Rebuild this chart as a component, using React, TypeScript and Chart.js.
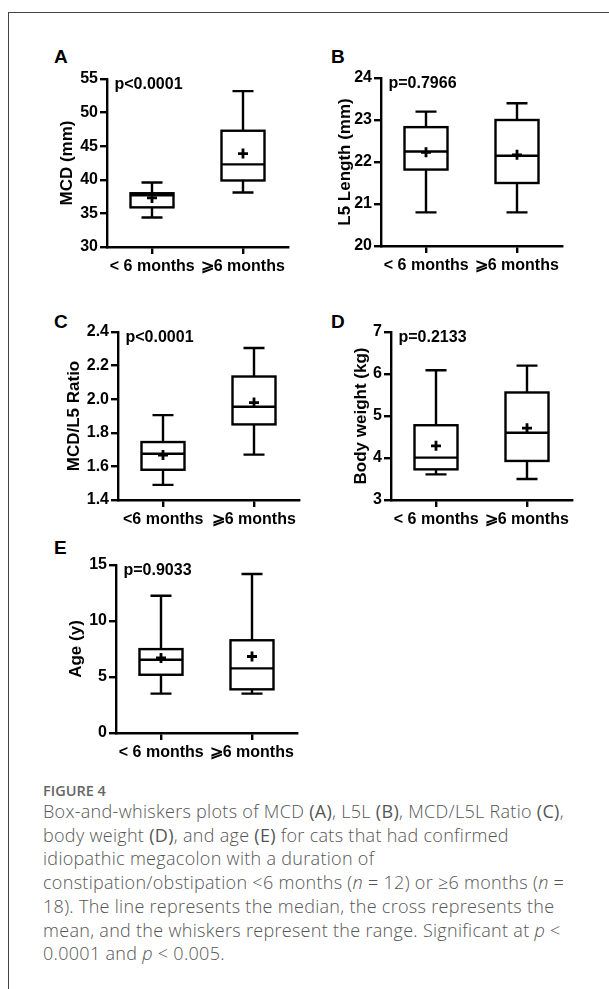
import React, { useEffect, useRef } from 'react';
import { Chart, registerables } from 'chart.js';

Chart.register(...registerables);

// Categories
const groupsSpaced = ['< 6 months', '\u2A7E6 months'];
const groupsTight = ['<6 months', '\u2A7E6 months'];

// Panel A: MCD (mm)
const mcdMin = [34.4, 38.1];
const mcdQ1 = [35.9, 39.9];
const mcdMedian = [37.7, 42.3];
const mcdQ3 = [38.0, 47.3];
const mcdMax = [39.6, 53.2];
const mcdMean = [37.3, 43.9];

// Panel B: L5 Length (mm)
const l5Min = [20.8, 20.8];
const l5Q1 = [21.82, 21.5];
const l5Median = [22.25, 22.15];
const l5Q3 = [22.83, 23.0];
const l5Max = [23.2, 23.4];
const l5Mean = [22.23, 22.17];

// Panel C: MCD/L5 Ratio
const ratioMin = [1.49, 1.67];
const ratioQ1 = [1.58, 1.85];
const ratioMedian = [1.675, 1.955];
const ratioQ3 = [1.745, 2.135];
const ratioMax = [1.905, 2.305];
const ratioMean = [1.668, 1.98];

// Panel D: Body weight (kg)
const bwMin = [3.61, 3.5];
const bwQ1 = [3.73, 3.93];
const bwMedian = [4.01, 4.6];
const bwQ3 = [4.78, 5.56];
const bwMax = [6.09, 6.2];
const bwMean = [4.29, 4.71];

// Panel E: Age (y)
const ageMin = [3.52, 3.52];
const ageQ1 = [5.2, 3.9];
const ageMedian = [6.54, 5.77];
const ageQ3 = [7.49, 8.28];
const ageMax = [12.25, 14.2];
const ageMean = [6.7, 6.83];

// Axis ranges / ticks
const mcdAxis = [30, 55, 5];
const l5Axis = [20, 24, 1];
const ratioAxis = [1.4, 2.4, 0.2];
const bwAxis = [3, 7, 1];
const ageAxis = [0, 15, 5];

const FONT = '"Liberation Sans", Arial, sans-serif';
const AXIS_W = 70;
const PAD_TOP = 12;
const PAD_RIGHT = 20;
const AREA_W = 181;
const AREA_H = 168;
const X_H = 45;
const LW = 2.4;

type PanelProps = {
  axisX: number;
  topY: number;
  labels: string[];
  min: number[];
  q1: number[];
  median: number[];
  q3: number[];
  max: number[];
  mean: number[];
  axis: number[];
  decimals: number;
  title: string;
  titleOffset: number;
  pText: string;
};

function Panel(p: PanelProps) {
  const ref = useRef<HTMLCanvasElement | null>(null);
  const W = AXIS_W + AREA_W + PAD_RIGHT;
  const H = PAD_TOP + AREA_H + X_H;

  useEffect(() => {
    if (!ref.current) return;
    const boxPlugin = {
      id: 'boxWhisker',
      afterDatasetsDraw(chart: any) {
        const { ctx, chartArea } = chart;
        const xs = chart.scales.x;
        const ys = chart.scales.y;
        ctx.save();
        ctx.strokeStyle = '#000';
        ctx.lineCap = 'butt';
        p.min.forEach((_v, i) => {
          const cx = Math.round(xs.getPixelForValue(i));
          const yMin = ys.getPixelForValue(p.min[i]);
          const yMax = ys.getPixelForValue(p.max[i]);
          const yQ1 = ys.getPixelForValue(p.q1[i]);
          const yQ3 = ys.getPixelForValue(p.q3[i]);
          const yMed = ys.getPixelForValue(p.median[i]);
          const yMean = ys.getPixelForValue(p.mean[i]);
          const halfBox = 21.5;
          // box outline
          ctx.lineWidth = LW;
          ctx.strokeRect(cx - halfBox, yQ3, halfBox * 2, yQ1 - yQ3);
          ctx.beginPath();
          // whiskers
          ctx.moveTo(cx, yQ3);
          ctx.lineTo(cx, yMax);
          ctx.moveTo(cx, yQ1);
          ctx.lineTo(cx, yMin);
          // caps
          ctx.moveTo(cx - 10.5, yMax);
          ctx.lineTo(cx + 10.5, yMax);
          ctx.moveTo(cx - 10.5, yMin);
          ctx.lineTo(cx + 10.5, yMin);
          // median
          ctx.moveTo(cx - halfBox, yMed);
          ctx.lineTo(cx + halfBox, yMed);
          ctx.stroke();
          // mean cross
          ctx.lineWidth = 2.8;
          ctx.beginPath();
          ctx.moveTo(cx - 5, yMean);
          ctx.lineTo(cx + 5, yMean);
          ctx.moveTo(cx, yMean - 5);
          ctx.lineTo(cx, yMean + 5);
          ctx.stroke();
        });
        ctx.fillStyle = '#000';
        ctx.font = 'bold 16px ' + FONT;
        ctx.textAlign = 'left';
        ctx.textBaseline = 'alphabetic';
        ctx.fillText(p.pText, chartArea.left + 7.5, chartArea.top + 9.5);
        ctx.restore();
      },
    };

    const titlePad = AXIS_W - p.titleOffset - 10.2;
    const chart = new Chart(ref.current, {
      type: 'bar',
      data: {
        labels: p.labels,
        datasets: [
          {
            data: p.q1.map((v, i) => [v, p.q3[i]]) as any,
            backgroundColor: '#ffffff',
            borderColor: '#000000',
            borderWidth: 0,
            borderSkipped: false,
            barThickness: 43,
          },
        ],
      },
      options: {
        responsive: false,
        animation: false,
        devicePixelRatio: 1,
        layout: { padding: { top: PAD_TOP, right: PAD_RIGHT, left: 0, bottom: 0 } },
        plugins: { legend: { display: false }, tooltip: { enabled: false } },
        scales: {
          x: {
            type: 'category',
            offset: true,
            ticks: {
              color: '#000',
              font: { family: FONT, size: 16, weight: 'bold' },
              padding: 3,
              maxRotation: 0,
              minRotation: 0,
              autoSkip: false,
            },
            grid: {
              offset: false,
              drawOnChartArea: false,
              drawTicks: true,
              tickLength: 7,
              color: '#000',
              lineWidth: LW,
            },
            border: { display: true, color: '#000', width: LW },
            afterFit: (s: any) => {
              s.height = X_H;
            },
          },
          y: {
            type: 'linear',
            min: p.axis[0],
            max: p.axis[1],
            ticks: {
              stepSize: p.axis[2],
              color: '#000',
              font: { family: FONT, size: 16, weight: 'bold' },
              padding: 2,
              callback: (v: any) => Number(v).toFixed(p.decimals),
            },
            grid: {
              drawOnChartArea: false,
              drawTicks: true,
              tickLength: 7,
              color: '#000',
              lineWidth: LW,
            },
            border: { display: true, color: '#000', width: LW },
            title: {
              display: true,
              text: p.title,
              color: '#000',
              font: { family: FONT, size: 17, weight: 'bold' },
              padding: { top: titlePad, bottom: 0 },
            },
            afterFit: (s: any) => {
              s.width = AXIS_W;
            },
          },
        },
      } as any,
      plugins: [boxPlugin],
    });
    return () => chart.destroy();
  }, []);

  return (
    <canvas
      ref={ref}
      width={W}
      height={H}
      style={{
        position: 'absolute',
        left: p.axisX - AXIS_W,
        top: p.topY - PAD_TOP,
        width: W,
        height: H,
      }}
    />
  );
}

const letterStyle: React.CSSProperties = {
  position: 'absolute',
  fontFamily: FONT,
  fontWeight: 'bold',
  fontSize: 19,
  lineHeight: '19px',
  color: '#000',
  whiteSpace: 'nowrap',
};

export default function App() {
  return (
    <div
      style={{
        position: 'absolute',
        left: 0,
        top: 0,
        width: 609,
        height: 989,
        overflow: 'hidden',
        background: '#fff',
      }}
    >
      <div
        style={{
          position: 'absolute',
          left: 8,
          top: 12,
          width: 800,
          height: 1200,
          borderLeft: '1px solid #444',
          borderTop: '1px solid #444',
        }}
      />
      <div style={{ ...letterStyle, left: 54, top: 46.5 }}>A</div>
      <div style={{ ...letterStyle, left: 331, top: 46.5 }}>B</div>
      <div style={{ ...letterStyle, left: 54, top: 312 }}>C</div>
      <div style={{ ...letterStyle, left: 331, top: 312 }}>D</div>
      <div style={{ ...letterStyle, left: 54, top: 537.5 }}>E</div>

      <Panel
        axisX={107}
        topY={79}
        labels={groupsSpaced}
        min={mcdMin}
        q1={mcdQ1}
        median={mcdMedian}
        q3={mcdQ3}
        max={mcdMax}
        mean={mcdMean}
        axis={mcdAxis}
        decimals={0}
        title="MCD (mm)"
        titleOffset={39.2}
        pText="p<0.0001"
      />
      <Panel
        axisX={381}
        topY={78}
        labels={groupsSpaced}
        min={l5Min}
        q1={l5Q1}
        median={l5Median}
        q3={l5Q3}
        max={l5Max}
        mean={l5Mean}
        axis={l5Axis}
        decimals={0}
        title="L5 Length (mm)"
        titleOffset={35.5}
        pText="p=0.7966"
      />
      <Panel
        axisX={118}
        topY={332}
        labels={groupsTight}
        min={ratioMin}
        q1={ratioQ1}
        median={ratioMedian}
        q3={ratioQ3}
        max={ratioMax}
        mean={ratioMean}
        axis={ratioAxis}
        decimals={1}
        title="MCD/L5 Ratio"
        titleOffset={43.5}
        pText="p<0.0001"
      />
      <Panel
        axisX={391}
        topY={332}
        labels={groupsSpaced}
        min={bwMin}
        q1={bwQ1}
        median={bwMedian}
        q3={bwQ3}
        max={bwMax}
        mean={bwMean}
        axis={bwAxis}
        decimals={0}
        title="Body weight (kg)"
        titleOffset={30}
        pText="p=0.2133"
      />
      <Panel
        axisX={116}
        topY={565}
        labels={groupsSpaced}
        min={ageMin}
        q1={ageQ1}
        median={ageMedian}
        q3={ageQ3}
        max={ageMax}
        mean={ageMean}
        axis={ageAxis}
        decimals={0}
        title="Age (y)"
        titleOffset={39.3}
        pText="p=0.9033"
      />

      <div
        style={{
          position: 'absolute',
          left: 43,
          top: 784.3,
          fontFamily: '"Open Sans", sans-serif',
          fontWeight: 600,
          fontSize: 14.5,
          lineHeight: '14.5px',
          color: '#666',
          whiteSpace: 'nowrap',
        }}
      >
        FIGURE 4
      </div>
      <div
        style={{
          position: 'absolute',
          left: 43,
          top: 800,
          fontFamily: '"Open Sans", sans-serif',
          fontWeight: 300,
          fontSize: 18,
          letterSpacing: '0.3px',
          lineHeight: '23.7px',
          color: '#555',
          whiteSpace: 'nowrap',
        }}
      >
        Box-and-whiskers plots of MCD <b>(A)</b>, L5L <b>(B)</b>, MCD/L5L Ratio <b>(C)</b>,
        <br />
        body weight <b>(D)</b>, and age <b>(E)</b> for cats that had confirmed
        <br />
        idiopathic megacolon with a duration of
        <br />
        constipation/obstipation &lt;6 months (<i>n</i> = 12) or &ge;6 months (<i>n</i> =
        <br />
        18). The line represents the median, the cross represents the
        <br />
        mean, and the whiskers represent the range. Significant at <i>p</i> &lt;
        <br />
        0.0001 and <i>p</i> &lt; 0.005.
      </div>
    </div>
  );
}
